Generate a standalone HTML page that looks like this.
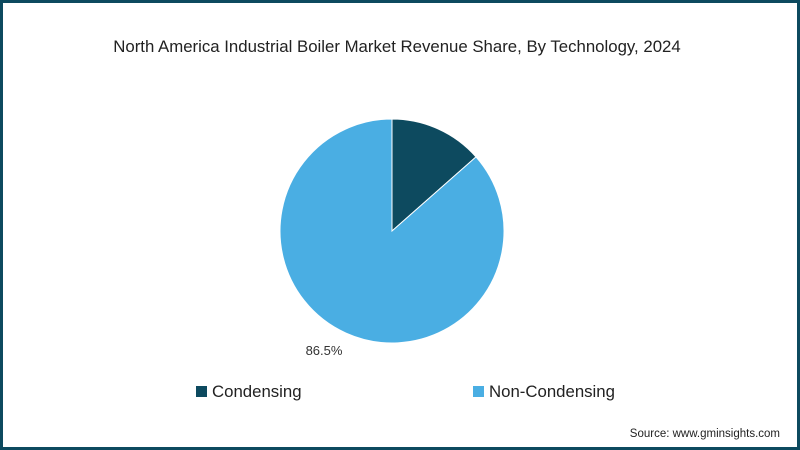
<!DOCTYPE html>
<html><head><meta charset="utf-8"><style>
body{margin:0;width:800px;height:450px;overflow:hidden;font-family:"Liberation Sans",sans-serif;background:#fff}
#frame{position:absolute;left:0;top:0;width:794px;height:444px;border:3px solid #0d4a5f;background:#fff}
</style></head><body>
<div id="frame"></div>
<svg id="chart" width="800" height="450" style="position:absolute;left:0;top:0">
<text x="397" y="52" text-anchor="middle" font-size="16.8" fill="#222">North America Industrial Boiler Market Revenue Share, By Technology, 2024</text>
<g id="slices"></g>
<text x="324" y="355" text-anchor="middle" font-size="13" fill="#333">86.5%</text>
<rect x="196" y="386" width="11" height="11" fill="#0d4a5f"/>
<text x="212" y="397" font-size="16.8" fill="#222">Condensing</text>
<rect x="473" y="386" width="11" height="11" fill="#4aaee3"/>
<text x="489" y="397" font-size="16.8" fill="#222">Non-Condensing</text>
<text x="780" y="437" text-anchor="end" font-size="11.5" fill="#222">Source: www.gminsights.com</text>
</svg>
<script>
const categories=["Condensing","Non-Condensing"];
const values=[13.5,86.5];
const colors=["#0d4a5f","#4aaee3"];
const cx=392,cy=231,r=112;
const g=document.getElementById('slices');
const total=values.reduce((a,b)=>a+b,0);
let a0=0;
values.forEach((v,i)=>{
  const a1=a0+v/total*2*Math.PI;
  const x0=cx+r*Math.sin(a0),y0=cy-r*Math.cos(a0);
  const x1=cx+r*Math.sin(a1),y1=cy-r*Math.cos(a1);
  const large=(a1-a0)>Math.PI?1:0;
  const p=document.createElementNS('http://www.w3.org/2000/svg','path');
  p.setAttribute('d',`M${cx},${cy}L${x0},${y0}A${r},${r} 0 ${large} 1 ${x1},${y1}Z`);
  p.setAttribute('fill',colors[i]);
  p.setAttribute('stroke','#fff');
  p.setAttribute('stroke-width','1');
  
  
  g.appendChild(p);
  a0=a1;
});
</script>
</body></html>
